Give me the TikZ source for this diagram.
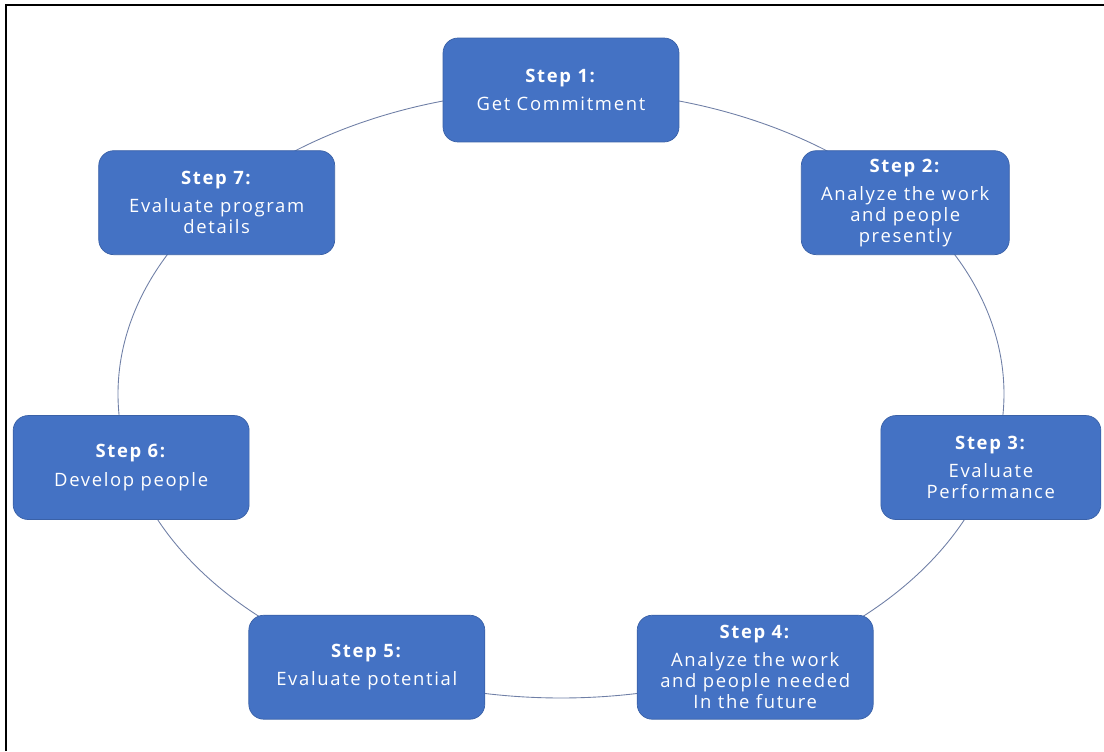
\documentclass[tikz,border=0pt]{standalone}
\usepackage{fontspec}
\setmainfont{Open Sans}[LetterSpace=9]
\usetikzlibrary{calc, backgrounds}
\definecolor{stepblue}{HTML}{4472C4}
\definecolor{ringgray}{HTML}{6F7FA6}

\begin{document}
\begin{tikzpicture}[
    x=0.02cm, y=0.02cm,
    stepbox/.style={rectangle, draw=stepblue!85!black, fill=stepblue, rounded corners=0.3cm, minimum width=4.72cm, minimum height=2.08cm, align=center, text=white, font=\fontsize{10.5}{12}\selectfont},
    ring/.style={draw=ringgray, line width=0.5pt}
]
\useasboundingbox (0,0) rectangle (1104,751);
% frame
\draw[line width=1.1pt] (6,0) -- (6,746) -- (1104,746);

\coordinate (ctr) at (561,357);
\node[stepbox] (s1) at ($(ctr)+(90:443 and 304)$) {\textbf{Step 1:}\\[4pt]Get Commitment};
\node[stepbox, minimum width=4.16cm] (s2) at ($(ctr)+(39:443 and 304)$) {\textbf{Step 2:}\\[4pt]Analyze the work\\and people\\presently};
\node[stepbox, minimum width=4.4cm] (s3) at ($(ctr)+(-14:443 and 304)$) {\textbf{Step 3:}\\[4pt]Evaluate\\Performance};
\node[stepbox] (s4) at ($(ctr)+(-64:443 and 304)$) {\textbf{Step 4:}\\[4pt]Analyze the work\\and people needed\\In the future};
\node[stepbox] (s5) at ($(ctr)+(-116:443 and 304)$) {\textbf{Step 5:}\\[4pt]Evaluate potential};
\node[stepbox] (s6) at ($(ctr)+(-166:443 and 304)$) {\textbf{Step 6:}\\[4pt]Develop people};
\node[stepbox] (s7) at ($(ctr)+(-219:443 and 304)$) {\textbf{Step 7:}\\[4pt]Evaluate program\\details};

% ring behind the boxes
\begin{scope}[on background layer]
\draw[ring] (s1.center) arc[start angle=90, end angle=39, x radius=8.86cm, y radius=6.08cm];
\draw[ring] (s2.center) arc[start angle=39, end angle=-14, x radius=8.86cm, y radius=6.08cm];
\draw[ring] (s3.center) arc[start angle=-14, end angle=-64, x radius=8.86cm, y radius=6.08cm];
\draw[ring] (s4.center) arc[start angle=-64, end angle=-116, x radius=8.86cm, y radius=6.08cm];
\draw[ring] (s5.center) arc[start angle=-116, end angle=-166, x radius=8.86cm, y radius=6.08cm];
\draw[ring] (s6.center) arc[start angle=-166, end angle=-219, x radius=8.86cm, y radius=6.08cm];
\draw[ring] (s7.center) arc[start angle=-219, end angle=-270, x radius=8.86cm, y radius=6.08cm];
\end{scope}
\end{tikzpicture}
\end{document}
